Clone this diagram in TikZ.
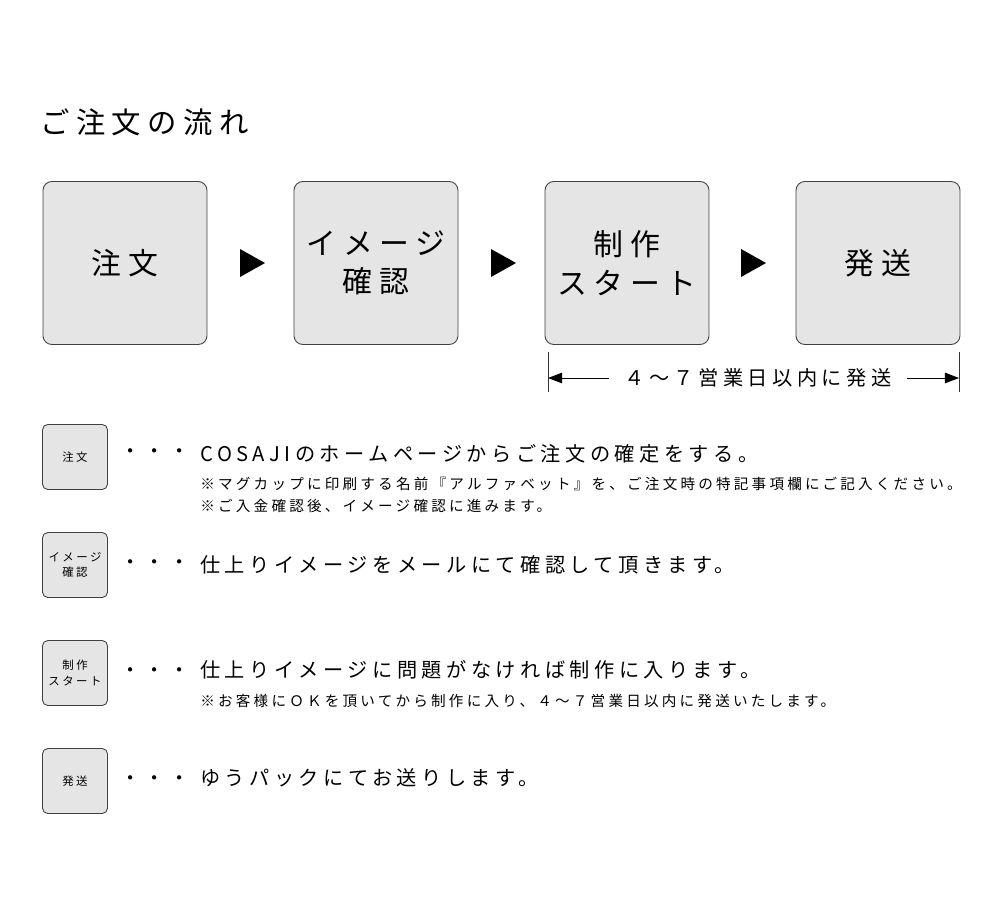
\documentclass[tikz,border=0pt]{standalone}
\usepackage{fontspec}
\setmainfont{Noto Sans CJK JP}[LetterSpace=22]
\usetikzlibrary{positioning,arrows.meta}

\tikzset{
	bigbox/.style={draw=black!75, fill=black!10, rounded corners=5pt, minimum width=3.28cm, minimum height=3.26cm, align=center, font=\fontsize{17}{22}\selectfont, line width=0.5pt},
	smallbox/.style={draw=black!75, fill=black!10, rounded corners=3pt, minimum width=1.3cm, minimum height=1.3cm, align=center, font=\fontsize{6.5}{9}\selectfont, line width=0.5pt},
	rowtext/.style={anchor=west, font=\fontsize{11.5}{14}\selectfont, inner sep=0pt},
	subtext/.style={anchor=west, font=\fontsize{8.3}{10}\selectfont, inner sep=0pt}
}

\begin{document}
\begin{tikzpicture}[x=0.02cm,y=-0.02cm]
	\useasboundingbox (0,0) rectangle (1000,916);
	\node[anchor=west, font=\fontsize{16.7}{20}\selectfont, inner sep=0pt] (title) at (40,122) {ご注文の流れ};

	% flow boxes
	\node[bigbox] (order) at (125,263) {注文};
	\node[bigbox] (image) at (376,263) {イメージ\\確認};
	\node[bigbox] (make) at (627,263) {制作\\スタート};
	\node[bigbox] (ship) at (878,263) {発送};
	\foreach \x in {252,503,753}
		\fill (\x-12,249) -- (\x+13,263) -- (\x-12,277) -- cycle;

	% period
	\coordinate (pl) at (548,352);
	\coordinate (pr) at (959,352);
	\draw[black!80, line width=0.5pt] (pl) -- ++(0,40);
	\draw[black!80, line width=0.5pt] (pr) -- ++(0,40);
	\node[font=\fontsize{11.5}{14}\selectfont, inner sep=0pt] (days) at (758,378) {４～７営業日以内に発送};
	\draw[-{Triangle[length=8pt,width=6pt]}, line width=0.5pt] (days.west) ++(-15,0) -- (548,378);
	\draw[-{Triangle[length=8pt,width=6pt]}, line width=0.5pt] (days.east) ++(15,0) -- (959,378);

	% steps
	\node[smallbox] (s1) at (75,457) {注文};
	\node[smallbox] (s2) at (75,565) {イメージ\\確認};
	\node[smallbox] (s3) at (75,673) {制作\\スタート};
	\node[smallbox] (s4) at (75,781) {発送};
	\foreach \y in {454,565,673,781}
		\node[rowtext] at (120,\y) {・・・};
	\node[rowtext] (t1) at (200,454) {COSAJIのホームページからご注文の確定をする。};
	\node[subtext] at (200,484) {※マグカップに印刷する名前『アルファベット』を、ご注文時の特記事項欄にご記入ください。};
	\node[subtext] at (200,506) {※ご入金確認後、イメージ確認に進みます。};
	\node[rowtext] (t2) at (200,565) {仕上りイメージをメールにて確認して頂きます。};
	\node[rowtext] (t3) at (200,670) {仕上りイメージに問題がなければ制作に入ります。};
	\node[subtext] at (200,701) {※お客様にＯＫを頂いてから制作に入り、４～７営業日以内に発送いたします。};
	\node[rowtext] (t4) at (200,778) {ゆうパックにてお送りします。};
\end{tikzpicture}
\end{document}
